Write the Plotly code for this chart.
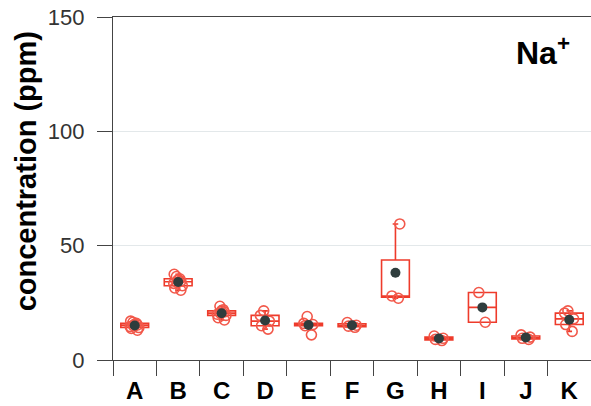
import numpy as np
import plotly.graph_objects as go

# Na+ concentration (ppm) per sampling site
categories = ["A", "B", "C", "D", "E", "F", "G", "H", "I", "J", "K"]
site_A = [13.0, 13.8, 14.2, 14.6, 15.0, 15.3, 15.6, 16.0, 16.5, 17.0]
site_B = [30.5, 31.5, 32.5, 33.5, 34.0, 34.5, 35.0, 35.5, 36.5, 37.5]
site_C = [17.5, 18.5, 19.5, 20.0, 20.5, 21.0, 21.5, 22.0, 23.5]
site_D = [13.5, 15.0, 17.0, 19.5, 21.5]
site_E = [11.0, 15.0, 15.5, 16.0, 19.0]
site_F = [14.3, 14.8, 15.2, 16.4]
site_G = [27.0, 28.0, 59.5]
site_H = [8.5, 9.0, 9.5, 10.5]
site_I = [16.5, 29.5]
site_J = [9.0, 9.5, 10.0, 11.0]
site_K = [12.5, 15.5, 18.0, 20.5, 21.5]
samples = [site_A, site_B, site_C, site_D, site_E, site_F,
           site_G, site_H, site_I, site_J, site_K]

y_ticks = [0, 50, 100, 150]
ion_label = "<b>Na<sup>+</sup></b>"
y_title = "<b>concentration (ppm)</b>"

BOX_RED = "#ee3b2b"
POINT_RED = "#f2584a"
MEAN_COLOR = "#2f3d3d"

fig = go.Figure()

for cat, vals in zip(categories, samples):
    fig.add_trace(go.Box(
        x=[cat] * len(vals),
        y=vals,
        name=cat,
        quartilemethod="inclusive",
        boxpoints="all",
        jitter=0.4,
        pointpos=0,
        width=0.64,
        whiskerwidth=0.2,
        fillcolor="rgba(0,0,0,0)",
        line=dict(color=BOX_RED, width=1.6),
        marker=dict(symbol="circle-open", size=10, color=POINT_RED,
                    line=dict(width=1.6, color=POINT_RED)),
        showlegend=False,
        hoverinfo="skip",
    ))

means = [float(np.mean(v)) for v in samples]
fig.add_trace(go.Scatter(
    x=categories,
    y=means,
    mode="markers",
    marker=dict(size=10, color=MEAN_COLOR),
    showlegend=False,
))

fig.add_annotation(
    text=ion_label, xref="paper", yref="paper",
    x=0.838, y=0.9, xanchor="left", yanchor="middle",
    showarrow=False, font=dict(size=32, color="black", family="Liberation Sans"),
)
fig.add_annotation(
    text=y_title, xref="paper", yref="paper",
    x=-0.182, y=0.55, xanchor="center", yanchor="middle", textangle=-90,
    showarrow=False, font=dict(size=29, color="black", family="Liberation Sans"),
)

fig.update_layout(
    width=591, height=406,
    margin=dict(l=113, r=0, t=17, b=46),
    plot_bgcolor="white", paper_bgcolor="white",
    boxmode="overlay",
    xaxis=dict(
        type="category",
        categoryorder="array", categoryarray=categories,
        range=[-0.5, 10.5],
        showline=True, linecolor="#444", linewidth=1.3, mirror=True,
        ticks="outside", tickson="boundaries", ticklen=15,
        tickcolor="#444", tickwidth=1.3,
        ticklabelstandoff=9,
        tickfont=dict(size=24, color="black", family="Liberation Sans",
                      weight="bold"),
        showgrid=False, zeroline=False,
    ),
    yaxis=dict(
        range=[0, 150],
        tickvals=y_ticks,
        showline=True, linecolor="#444", linewidth=1.3,
        ticks="outside", ticklen=15, tickcolor="#444", tickwidth=1.3,
        ticklabelstandoff=8,
        tickfont=dict(size=22, color="#333", family="Liberation Sans"),
        showgrid=True, gridcolor="#e3e8ea", gridwidth=1,
        zeroline=False,
    ),
)

fig.write_html("out.html")
